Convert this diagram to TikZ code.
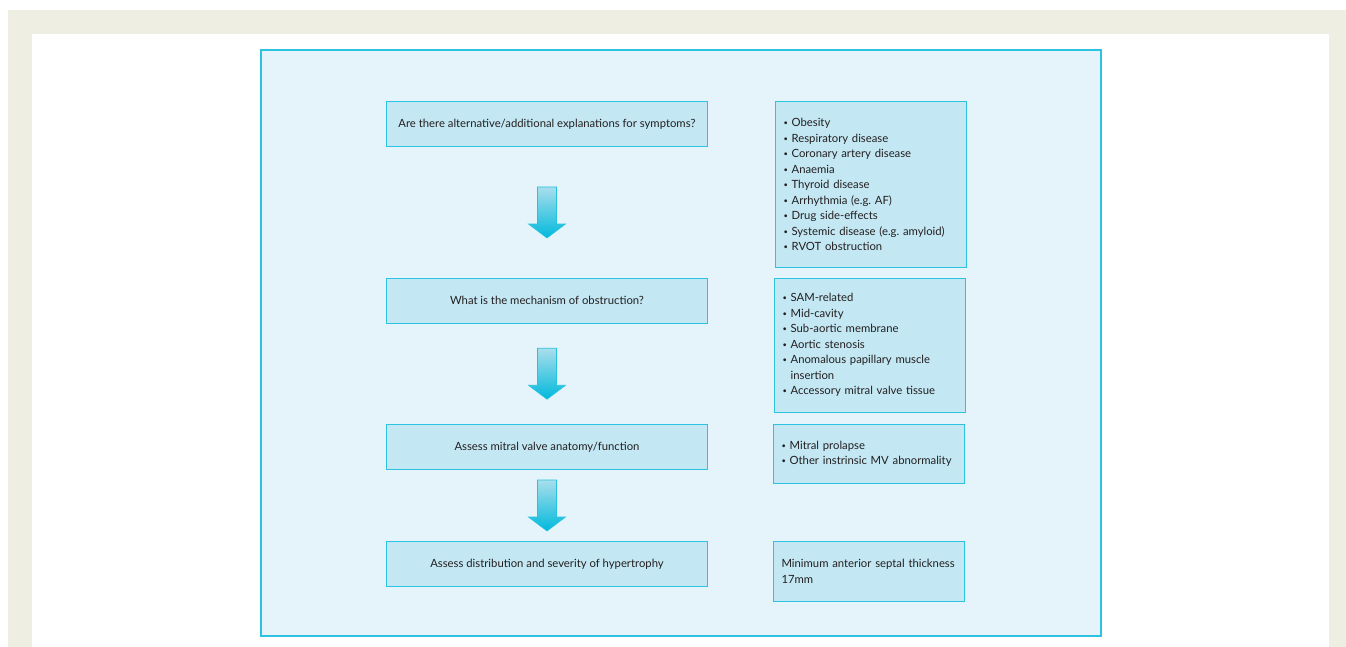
\documentclass[tikz,border=0pt]{standalone}
\usepackage{fontspec}
\setmainfont{Lato}
\usepackage{tikz}
\usetikzlibrary{backgrounds, calc, positioning}
\definecolor{frame}{HTML}{EFEEE3}
\definecolor{panel}{HTML}{E4F4FA}
\definecolor{edge}{HTML}{2CC2E0}
\definecolor{boxfill}{HTML}{C3E7F3}
\definecolor{arrowtop}{HTML}{A9DEEC}
\definecolor{arrowbot}{HTML}{00B9DC}
\definecolor{ink}{HTML}{231F20}
\tikzstyle{question}=[rectangle, draw=edge, fill=boxfill, line width=1pt, minimum width=321pt, minimum height=45pt, inner sep=0pt]
\tikzstyle{answer}=[rectangle, draw=edge, fill=boxfill, line width=1pt, text width=175pt, inner xsep=8pt, inner ysep=0pt, align=left]
\tikzstyle{blockarrow}=[top color=arrowtop, bottom color=arrowbot, draw=arrowbot!85, line width=0.6pt]

% small list bullet
\newcommand{\pnt}{{\fontsize{7.5}{15.5}\selectfont\raisebox{0.25ex}{\textbullet}}\ }

% block arrow half way between two boxes
\newcommand{\flowarrow}[2]{%
  \coordinate (m) at ($(#1.south)!0.5!(#2.north)$);
  \shadedraw[blockarrow, shift={(m)}] (-9.5,-25.5) -- (9.5,-25.5) -- (9.5,11.5) -- (18.5,11.5)
    -- (0,25.5) -- (-18.5,11.5) -- (-9.5,11.5) -- cycle;
}

\begin{document}
\frenchspacing
\begin{tikzpicture}[x=1pt, y=-1pt, font=\fontsize{11.3}{15.5}\selectfont, text=ink]
      \useasboundingbox (0,0) rectangle (1346,647);
      \fill[frame] (8,10) rectangle (1346,647);
      \fill[white] (32,34) rectangle (1329,647);
      \draw[edge, fill=panel, line width=1.2pt] (261,50) rectangle (1101,636);

      \node[question] (q1) at (547,124.5) {Are there alternative/additional explanations for symptoms?};
      \node[question] (q2) [below=130pt of q1] {What is the mechanism of obstruction?};
      \node[question] (q3) [below=100.5pt of q2] {Assess mitral valve anatomy/function};
      \node[question] (q4) [below=71pt of q3] {Assess distribution and severity of hypertrophy};

      \node[answer] (r1) [right=67pt of q1.north east, anchor=north west, minimum height=165pt]
        {\pnt Obesity\\
         \pnt Respiratory disease\\
         \pnt Coronary artery disease\\
         \pnt Anaemia\\
         \pnt Thyroid disease\\
         \pnt Arrhythmia (e.g. AF)\\
         \pnt Drug side-effects\\
         \pnt Systemic disease (e.g. amyloid)\\
         \pnt RVOT obstruction};
      \node[answer] (r2) [right=66pt of q2.north east, anchor=north west, minimum height=134pt]
        {\pnt SAM-related\\
         \pnt Mid-cavity\\
         \pnt Sub-aortic membrane\\
         \pnt Aortic stenosis\\
         \pnt Anomalous papillary muscle\\
         \phantom{\pnt}insertion\\
         \pnt Accessory mitral valve tissue};
      \node[answer] (r3) [right=65pt of q3.north east, anchor=north west, minimum height=59pt]
        {\pnt Mitral prolapse\\
         \pnt Other instrinsic MV abnormality};
      \node[answer] (r4) [right=65pt of q4.north east, anchor=north west, minimum height=60pt]
        {Minimum anterior septal thickness\\17mm};

      \flowarrow{q1}{q2}
      \flowarrow{q2}{q3}
      \flowarrow{q3}{q4}
\end{tikzpicture}
\end{document}
